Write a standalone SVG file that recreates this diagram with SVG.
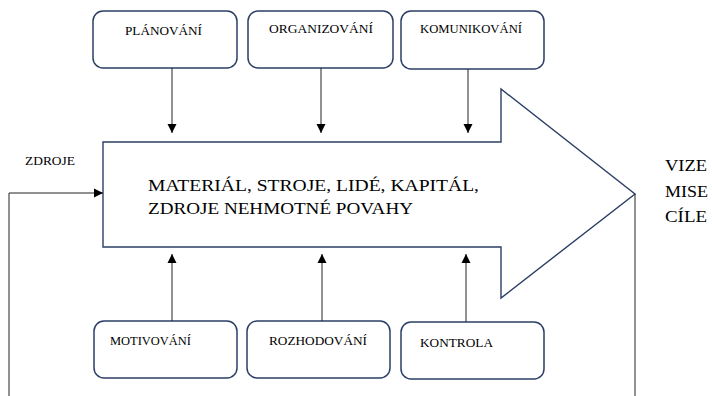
<svg xmlns="http://www.w3.org/2000/svg" width="712" height="396" viewBox="0 0 712 396" font-family="'Liberation Serif', 'Times New Roman', serif">
<style>
.box{fill:#fff;stroke:#2b3f66;stroke-width:1.5}
.big{fill:#fff;stroke:#2b3f66;stroke-width:1.4}
.lbl{font-size:12.5px;fill:#000}
.main{font-size:17px;fill:#000}
.con{fill:none;stroke:#222;stroke-width:1}
</style>
<defs>
<marker id="ah" markerUnits="userSpaceOnUse" markerWidth="10" markerHeight="10" refX="9" refY="5" orient="auto">
<path d="M0,0.5 L9,5 L0,9.5 z" fill="#000"/>
</marker>
</defs>
<rect width="712" height="396" fill="#fff"/>
<g id="process-arrow">
<polygon class="big" points="103,142 501,142 501,89 635,194 501,298 501,247 103,247"/>
<text class="main" x="148" y="191" textLength="331" lengthAdjust="spacingAndGlyphs">MATERIÁL, STROJE, LIDÉ, KAPITÁL,</text>
<text class="main" x="148" y="214" textLength="265" lengthAdjust="spacingAndGlyphs">ZDROJE NEHMOTNÉ POVAHY</text>
</g>
<g id="planovani">
<rect class="box" x="93" y="11" width="144" height="57" rx="10"/>
<text class="lbl" x="125" y="35" textLength="77" lengthAdjust="spacingAndGlyphs">PLÁNOVÁNÍ</text>
</g>
<g id="organizovani">
<rect class="box" x="248" y="11" width="145" height="57" rx="10"/>
<text class="lbl" x="269" y="33" textLength="104" lengthAdjust="spacingAndGlyphs">ORGANIZOVÁNÍ</text>
</g>
<g id="komunikovani">
<rect class="box" x="401" y="11" width="143" height="58" rx="10"/>
<text class="lbl" x="420" y="33" textLength="102" lengthAdjust="spacingAndGlyphs">KOMUNIKOVÁNÍ</text>
</g>
<g id="motivovani">
<rect class="box" x="94" y="321" width="143" height="57" rx="10"/>
<text class="lbl" x="110" y="345" textLength="81" lengthAdjust="spacingAndGlyphs">MOTIVOVÁNÍ</text>
</g>
<g id="rozhodovani">
<rect class="box" x="247" y="321" width="143" height="57" rx="10"/>
<text class="lbl" x="269" y="345" textLength="98" lengthAdjust="spacingAndGlyphs">ROZHODOVÁNÍ</text>
</g>
<g id="kontrola">
<rect class="box" x="401" y="322" width="143" height="57" rx="10"/>
<text class="lbl" x="420" y="347" textLength="73" lengthAdjust="spacingAndGlyphs">KONTROLA</text>
</g>
<g id="zdroje">
<text class="lbl" x="25" y="165" textLength="50" lengthAdjust="spacingAndGlyphs">ZDROJE</text>
</g>
<g id="vize-mise-cile">
<text class="main" x="665" y="171" textLength="42" lengthAdjust="spacingAndGlyphs">VIZE</text>
<text class="main" x="665" y="196.5" textLength="43" lengthAdjust="spacingAndGlyphs">MISE</text>
<text class="main" x="665" y="221.5" textLength="42" lengthAdjust="spacingAndGlyphs">CÍLE</text>
</g>
<g id="connectors">
<line class="con" x1="172" y1="68" x2="172" y2="133" marker-end="url(#ah)"/>
<line class="con" x1="321" y1="68" x2="321" y2="133" marker-end="url(#ah)"/>
<line class="con" x1="468" y1="69" x2="468" y2="133" marker-end="url(#ah)"/>
<line class="con" x1="172" y1="321" x2="172" y2="254" marker-end="url(#ah)"/>
<line class="con" x1="322" y1="321" x2="322" y2="254" marker-end="url(#ah)"/>
<line class="con" x1="466" y1="322" x2="466" y2="254" marker-end="url(#ah)" stroke="#666"/>
<path class="con" d="M9,396 V193 H103" marker-end="url(#ah)"/>
<path class="con" d="M635,194 V396"/>
</g>
</svg>
